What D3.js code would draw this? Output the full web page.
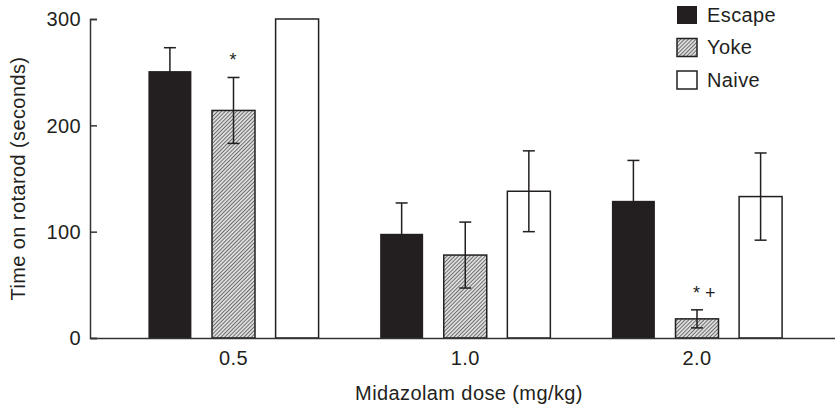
<!DOCTYPE html>
<html>
<head>
<meta charset="utf-8">
<script src="https://cdn.jsdelivr.net/npm/d3@7/dist/d3.min.js"></script>
<style>
  html, body { margin: 0; padding: 0; background: #fff; }
  svg { display: block; font-family: "Liberation Sans", Arial, Helvetica, sans-serif; }
</style>
</head>
<body>
<svg id="chart" width="835" height="407"></svg>
<script>
// Rotarod performance by midazolam dose and group
const doses = ["0.5", "1.0", "2.0"];
const groups = ["Escape", "Yoke", "Naive"];
const escapeMeans = [251, 98, 129];
const escapeErr = [22, 29, 38];
const yokeMeans = [214, 78, 18];
const yokeErr = [31, 31, 8.5];
const naiveMeans = [300, 138, 133];
const naiveErr = [null, 38, 41];
const yTicks = [0, 100, 200, 300];
const marks = [
  { dose: "0.5", group: "Yoke", label: "*" },
  { dose: "2.0", group: "Yoke", label: "* +" }
];

const seriesByGroup = {
  Escape: { means: escapeMeans, err: escapeErr },
  Yoke: { means: yokeMeans, err: yokeErr },
  Naive: { means: naiveMeans, err: naiveErr }
};
const rows = [];
groups.forEach(g => doses.forEach((d, i) => {
  rows.push({ group: g, dose: d, mean: seriesByGroup[g].means[i], err: seriesByGroup[g].err[i] });
}));

const svg = d3.select("#chart");
const ink = "#231f20";
const fontSize = 20;
const spacing = "0.4px";

// hatch pattern for the Yoke bars
const defs = svg.append("defs");
const pat = defs.append("pattern")
  .attr("id", "hatch")
  .attr("patternUnits", "userSpaceOnUse")
  .attr("width", 2.7).attr("height", 2.7)
  .attr("patternTransform", "rotate(45)");
pat.append("rect").attr("width", 2.7).attr("height", 2.7).attr("fill", "#dcdcdc");
pat.append("line").attr("x1", 0).attr("y1", 0).attr("x2", 0).attr("y2", 2.7)
  .attr("stroke", "#3c3c3c").attr("stroke-width", 1.3);

const fills = { Escape: ink, Yoke: "url(#hatch)", Naive: "#ffffff" };

const axisX = 90, plotRight = 835;
const y = d3.scaleLinear().domain([0, 300]).range([338, 19]);
const xDose = d3.scalePoint().domain(doses).range([233.5, 697]);
const xGroup = d3.scaleBand().domain(groups).range([-85.1, 85.1]).paddingInner(0.324).paddingOuter(0);
const bw = xGroup.bandwidth();
const xLeft = r => xDose(r.dose) + xGroup(r.group);
const xMid = r => xLeft(r) + bw / 2;

// bars
svg.append("g").selectAll("rect").data(rows).join("rect")
  .attr("x", d => xLeft(d))
  .attr("y", d => y(d.mean))
  .attr("width", bw)
  .attr("height", d => y(0) - y(d.mean))
  .attr("fill", d => fills[d.group])
  .attr("stroke", ink)
  .attr("stroke-width", d => d.group === "Escape" ? 0 : 1.5);

// error bars
const eb = svg.append("g").attr("stroke", ink).attr("stroke-width", 1.5);
const withErr = rows.filter(d => d.err != null);
eb.selectAll("line.v").data(withErr).join("line").attr("class", "v")
  .attr("x1", xMid).attr("x2", xMid)
  .attr("y1", d => y(d.mean - d.err)).attr("y2", d => y(d.mean + d.err));
eb.selectAll("line.top").data(withErr).join("line").attr("class", "top")
  .attr("x1", d => xMid(d) - 6).attr("x2", d => xMid(d) + 6)
  .attr("y1", d => y(d.mean + d.err)).attr("y2", d => y(d.mean + d.err));
eb.selectAll("line.bot").data(withErr).join("line").attr("class", "bot")
  .attr("x1", d => xMid(d) - 6).attr("x2", d => xMid(d) + 6)
  .attr("y1", d => y(d.mean - d.err)).attr("y2", d => y(d.mean - d.err));

// significance marks above error bars
marks.forEach(m => {
  const r = rows.find(d => d.dose === m.dose && d.group === m.group);
  const top = y(r.mean + (r.err || 0));
  svg.append("text")
    .attr("x", xMid(r) - 4)
    .attr("y", top - 11)
    .attr("font-size", 18)
    .attr("fill", ink)
    .text(m.label);
});

// y axis with inward ticks
const yAxis = d3.axisRight(y).tickValues(yTicks).tickSize(7).tickFormat("");
const gy = svg.append("g").attr("transform", `translate(${axisX},0)`).call(yAxis);
gy.select(".domain").attr("stroke", "#333").attr("stroke-width", 1.5);
gy.selectAll(".tick line").attr("stroke", "#333").attr("stroke-width", 1.5);
svg.append("g").selectAll("text").data(yTicks).join("text")
  .attr("x", 81).attr("y", d => y(d)).attr("dy", "0.36em")
  .attr("text-anchor", "end").attr("font-size", fontSize)
  .attr("letter-spacing", spacing).attr("fill", ink)
  .text(d => d);

// x axis baseline with dose labels
const xAxis = d3.axisBottom(d3.scaleLinear().domain([0, 1]).range([axisX, plotRight])).tickValues([]).tickSizeOuter(0);
const gx = svg.append("g").attr("transform", `translate(0,${y(0)})`).call(xAxis);
gx.select(".domain").attr("stroke", "#333").attr("stroke-width", 1.5);
svg.append("g").selectAll("text").data(doses).join("text")
  .attr("x", d => xDose(d)).attr("y", 365)
  .attr("text-anchor", "middle").attr("font-size", fontSize)
  .attr("letter-spacing", spacing).attr("fill", ink)
  .text(d => d);

// axis titles
svg.append("text")
  .attr("x", 469).attr("y", 400)
  .attr("text-anchor", "middle").attr("font-size", fontSize)
  .attr("letter-spacing", spacing).attr("fill", ink)
  .text("Midazolam dose (mg/kg)");
svg.append("text")
  .attr("transform", `translate(25,${(y(0) + y(300)) / 2}) rotate(-90)`)
  .attr("text-anchor", "middle").attr("font-size", fontSize)
  .attr("letter-spacing", spacing).attr("fill", ink)
  .text("Time on rotarod (seconds)");

// legend
const legend = svg.append("g").attr("transform", "translate(677,6)");
const li = legend.selectAll("g").data(groups).join("g")
  .attr("transform", (d, i) => `translate(0,${i * 32.5})`);
li.append("rect")
  .attr("width", 20).attr("height", 18)
  .attr("fill", d => fills[d])
  .attr("stroke", d => d === "Escape" ? "none" : ink)
  .attr("stroke-width", 1.5);
li.append("text")
  .attr("x", 30).attr("y", 15.5)
  .attr("font-size", fontSize).attr("letter-spacing", spacing).attr("fill", ink)
  .text(d => d);
</script>
</body>
</html>
